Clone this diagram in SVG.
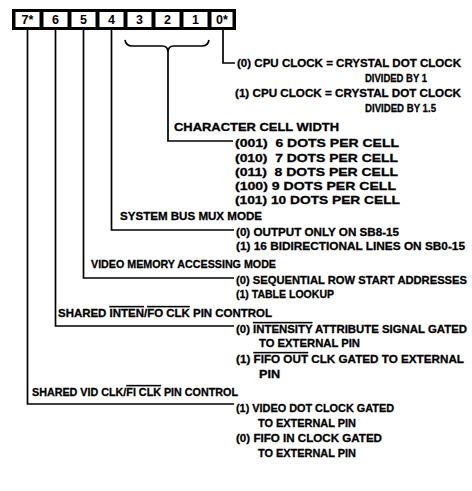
<svg xmlns="http://www.w3.org/2000/svg" width="472" height="491" viewBox="0 0 472 491">
<style>
.t{font-family:"Liberation Sans",Arial,sans-serif;font-weight:bold;font-size:11.5px;fill:#000;stroke:#000;stroke-width:0.3}
.d{font-family:"Liberation Sans",Arial,sans-serif;font-weight:bold;font-size:12.5px;fill:#000;text-anchor:middle}
.ln{fill:none;stroke:#000;stroke-width:1.7}
.ov{text-decoration:overline}
</style>
<rect width="472" height="491" fill="#fff"/>
<g id="register">
<rect x="12" y="9" width="224" height="21" fill="#000"/>
<rect x="15.5" y="12" width="24" height="15" fill="#fff"/>
<rect x="43.5" y="12" width="24" height="15" fill="#fff"/>
<rect x="71.5" y="12" width="24" height="15" fill="#fff"/>
<rect x="99.5" y="12" width="24" height="15" fill="#fff"/>
<rect x="127.5" y="12" width="24" height="15" fill="#fff"/>
<rect x="155.5" y="12" width="24" height="15" fill="#fff"/>
<rect x="183.5" y="12" width="24" height="15" fill="#fff"/>
<rect x="211.5" y="12" width="21" height="15" fill="#fff"/>
<text class="d" x="27.5" y="24">7*</text>
<text class="d" x="55.5" y="24">6</text>
<text class="d" x="83.5" y="24">5</text>
<text class="d" x="111.5" y="24">4</text>
<text class="d" x="139.5" y="24">3</text>
<text class="d" x="167.5" y="24">2</text>
<text class="d" x="195.5" y="24">1</text>
<text class="d" x="222" y="24">0*</text>
</g>
<g id="connectors">
<path class="ln" d="M223 30V63H235"/>
<path class="ln" d="M125 40Q126 46 132 46H162Q168 46 168 52Q168 46 174 46H202Q208 46 209 40"/>
<path class="ln" d="M168 52V141H233"/>
<path class="ln" d="M111.5 30V230H234"/>
<path class="ln" d="M83.5 30V278H234"/>
<path class="ln" d="M55.5 30V326H234"/>
<path class="ln" d="M27.5 30V404H234"/>
</g>
<g id="bit0">
<text class="t" x="237" y="67" textLength="224" lengthAdjust="spacingAndGlyphs">(0) CPU CLOCK = CRYSTAL DOT CLOCK</text>
<text class="t" x="365" y="82" textLength="62" lengthAdjust="spacingAndGlyphs">DIVIDED BY 1</text>
<text class="t" x="235" y="97" textLength="226" lengthAdjust="spacingAndGlyphs">(1) CPU CLOCK = CRYSTAL DOT CLOCK</text>
<text class="t" x="365" y="112" textLength="71" lengthAdjust="spacingAndGlyphs">DIVIDED BY 1.5</text>
</g>
<g id="bits3-1">
<text class="t" x="174" y="131" textLength="165" lengthAdjust="spacingAndGlyphs">CHARACTER CELL WIDTH</text>
<text class="t" x="235" y="147" textLength="164" lengthAdjust="spacingAndGlyphs" xml:space="preserve">(001)  6 DOTS PER CELL</text>
<text class="t" x="235" y="162" textLength="163" lengthAdjust="spacingAndGlyphs" xml:space="preserve">(010)  7 DOTS PER CELL</text>
<text class="t" x="235" y="176" textLength="163" lengthAdjust="spacingAndGlyphs" xml:space="preserve">(011)  8 DOTS PER CELL</text>
<text class="t" x="235" y="190" textLength="161" lengthAdjust="spacingAndGlyphs">(100) 9 DOTS PER CELL</text>
<text class="t" x="235" y="204" textLength="165" lengthAdjust="spacingAndGlyphs">(101) 10 DOTS PER CELL</text>
</g>
<g id="bit4">
<text class="t" x="120" y="220" textLength="142" lengthAdjust="spacingAndGlyphs">SYSTEM BUS MUX MODE</text>
<text class="t" x="236" y="236" textLength="163" lengthAdjust="spacingAndGlyphs">(0) OUTPUT ONLY ON SB8-15</text>
<text class="t" x="236" y="250" textLength="229" lengthAdjust="spacingAndGlyphs">(1) 16 BIDIRECTIONAL LINES ON SB0-15</text>
</g>
<g id="bit5">
<text class="t" x="91" y="268" textLength="185" lengthAdjust="spacingAndGlyphs">VIDEO MEMORY ACCESSING MODE</text>
<text class="t" x="236" y="284" textLength="231" lengthAdjust="spacingAndGlyphs">(0) SEQUENTIAL ROW START ADDRESSES</text>
<text class="t" x="236" y="298" textLength="98" lengthAdjust="spacingAndGlyphs">(1) TABLE LOOKUP</text>
</g>
<g id="bit6">
<text class="t" x="58" y="317" textLength="214" lengthAdjust="spacingAndGlyphs">SHARED <tspan class="ov">INTEN</tspan>/<tspan class="ov">FO CLK</tspan> PIN CONTROL</text>
<text class="t" x="236" y="333" textLength="231" lengthAdjust="spacingAndGlyphs">(0) <tspan class="ov">INTENSITY</tspan> ATTRIBUTE SIGNAL GATED</text>
<text class="t" x="259" y="347" textLength="101" lengthAdjust="spacingAndGlyphs">TO EXTERNAL PIN</text>
<text class="t" x="236" y="363" textLength="228" lengthAdjust="spacingAndGlyphs">(1) <tspan class="ov">FIFO OUT</tspan> CLK GATED TO EXTERNAL</text>
<text class="t" x="259" y="378" textLength="21" lengthAdjust="spacingAndGlyphs">PIN</text>
</g>
<g id="bit7">
<text class="t" x="32" y="396" textLength="206" lengthAdjust="spacingAndGlyphs">SHARED VID CLK/<tspan class="ov">FI CLK</tspan> PIN CONTROL</text>
<text class="t" x="236" y="412" textLength="158" lengthAdjust="spacingAndGlyphs">(1) VIDEO DOT CLOCK GATED</text>
<text class="t" x="258" y="427" textLength="98" lengthAdjust="spacingAndGlyphs">TO EXTERNAL PIN</text>
<text class="t" x="236" y="442" textLength="146" lengthAdjust="spacingAndGlyphs">(0) FIFO IN CLOCK GATED</text>
<text class="t" x="258" y="457" textLength="98" lengthAdjust="spacingAndGlyphs">TO EXTERNAL PIN</text>
</g>
</svg>
